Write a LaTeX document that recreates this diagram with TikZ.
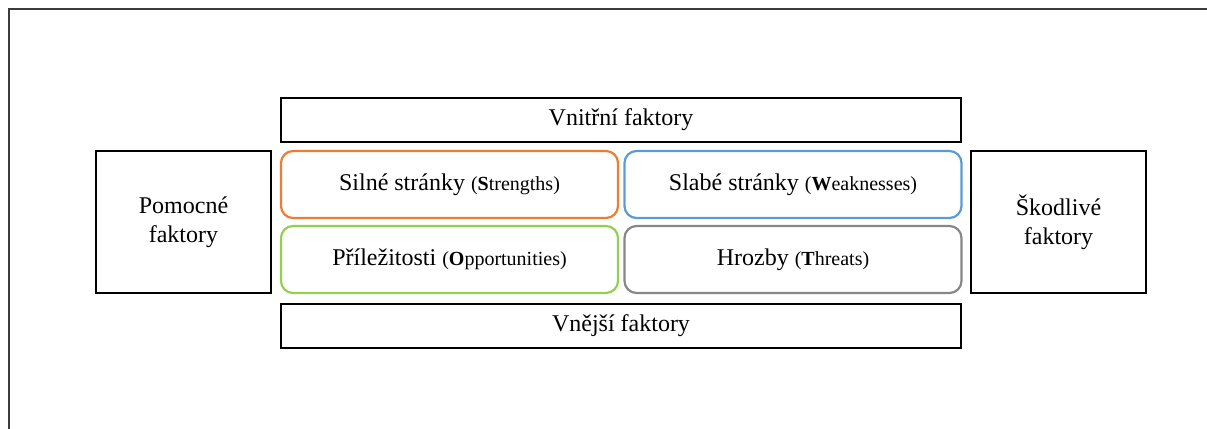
\documentclass[tikz,border=0pt]{standalone}
\usepackage{fontspec}
\setmainfont{Liberation Serif}
\newfontfamily\tnr{Liberation Serif}
\usepackage{tikz}
\usetikzlibrary{positioning}
\definecolor{silne}{RGB}{237,125,49}
\definecolor{slabe}{RGB}{91,155,213}
\definecolor{prilez}{RGB}{146,208,80}
\definecolor{hrozby}{RGB}{135,135,135}
\definecolor{ramec}{RGB}{60,60,60}

% anglicky nazev v zavorce, prvni pismeno tucne
\newcommand{\engl}[2]{{\fontsize{10}{12}\selectfont(\textbf{#1}#2)}}

\tikzset{
  faktor/.style={draw=black, line width=1pt, inner sep=0pt, align=center,
    font=\tnr\fontsize{12}{14.5}\selectfont},
  swot/.style={draw, line width=1.1pt, rounded corners=6pt, inner sep=0pt,
    minimum width=168.5pt, minimum height=33.5pt,
    font=\tnr\fontsize{12}{14.5}\selectfont}
}

\begin{document}
\begin{tikzpicture}[x=1pt, y=1pt]
  \useasboundingbox (0,0) rectangle (603.5,214.5);
  % ramecek stranky (jen horni a leva hrana)
  \draw[ramec, line width=1pt] (4.25,0) -- (4.25,209.75) -- (603.5,209.75);

  % SWOT ctverice
  \node[swot, draw=silne]  (S) at (224.75,122.25) {Silné stránky \engl{S}{trengths}};
  \node[swot, draw=slabe]  (W) at (396.5,122.25)  {Slabé stránky \engl{W}{eaknesses}};
  \node[swot, draw=prilez] (O) at (224.75,84.75)  {Příležitosti \engl{O}{pportunities}};
  \node[swot, draw=hrozby] (T) at (396.5,84.75)   {Hrozby \engl{T}{hreats}};

  % popisky os
  \node[faktor, minimum width=340pt, minimum height=22pt] (vnitrni) at (310.5,154.5) {Vnitřní faktory};
  \node[faktor, minimum width=340pt, minimum height=22pt] (vnejsi) at (310.5,51.5) {Vnější faktory};
  \node[faktor, minimum width=87.5pt, minimum height=71pt] (pomocne) at (91.75,103.5) {Pomocné\\faktory};
  \node[faktor, minimum width=87.5pt, minimum height=71pt] (skodlive) at (529.25,103.5) {Škodlivé\\faktory};
\end{tikzpicture}
\end{document}
